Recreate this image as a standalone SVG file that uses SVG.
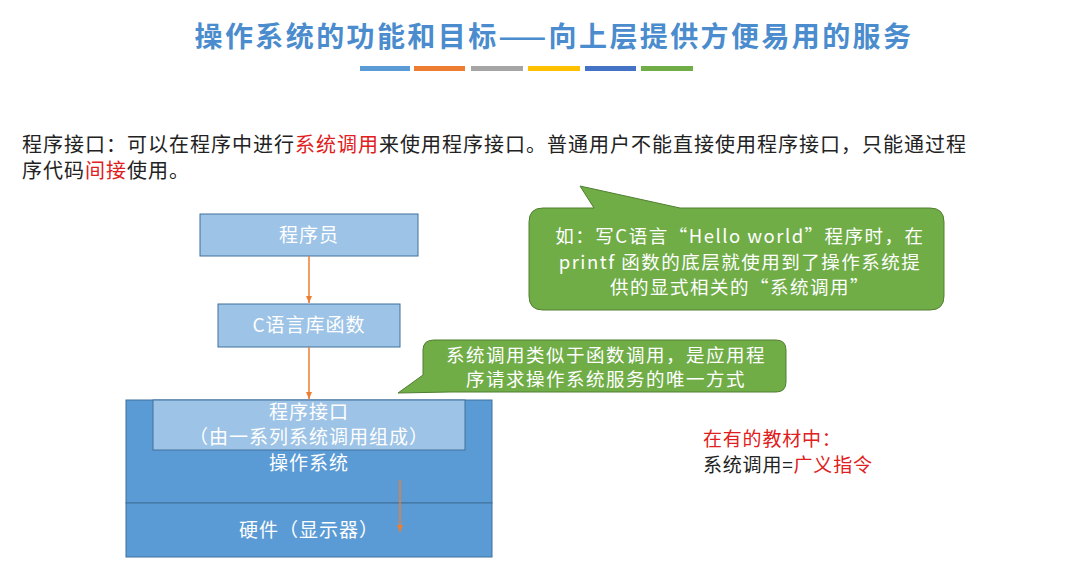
<svg xmlns="http://www.w3.org/2000/svg" width="1088" height="581" viewBox="0 0 1088 581">
<style>
text{font-family:"Noto Sans CJK SC","Liberation Sans",sans-serif}
.w{fill:#fff;font-size:19px;text-anchor:middle;letter-spacing:1px}
.c{fill:#fff;font-size:18.5px;text-anchor:middle;letter-spacing:1.5px}
.b{fill:#222;font-size:20px;letter-spacing:1px}
.s{fill:#222;font-size:19px;letter-spacing:0.8px}
.r{fill:#e02020}
.lb{fill:#9dc3e6;stroke:#41719c;stroke-width:1}
.db{fill:#5b9bd5;stroke:#41719c;stroke-width:1}
.g{fill:#70ad47;stroke:#507e32;stroke-width:1}
.a{stroke:#ed7d31;stroke-width:1.5;fill:none;marker-end:url(#ah)}
</style>
<defs><marker id="ah" markerWidth="8" markerHeight="8" refX="7" refY="4" orient="auto" markerUnits="userSpaceOnUse"><path d="M0,1 L7,4 L0,7z" fill="#ed7d31"/></marker></defs>
<rect width="1088" height="581" fill="#fff"/>
<text x="554" y="47" text-anchor="middle" style="font-size:28px;fill:#4a8ccd;font-weight:bold;letter-spacing:2.4px">操作系统的功能和目标——向上层提供方便易用的服务</text>
<g>
<rect x="360" y="66" width="50" height="5" fill="#5b9bd5"/>
<rect x="414" y="66" width="51" height="5" fill="#ed7d31"/>
<rect x="471" y="66" width="52" height="5" fill="#a5a5a5"/>
<rect x="528" y="66" width="52" height="5" fill="#ffc000"/>
<rect x="585" y="66" width="51" height="5" fill="#4472c4"/>
<rect x="641" y="66" width="52" height="5" fill="#70ad47"/>
</g>
<text class="b" x="22" y="152">程序接口：可以在程序中进行<tspan class="r">系统调用</tspan>来使用程序接口。普通用户不能直接使用程序接口，只能通过程</text>
<text class="b" x="22" y="178">序代码<tspan class="r">间接</tspan>使用。</text>
<g id="os"><rect class="db" x="126" y="400" width="366" height="103"/><text class="w" x="309" y="470">操作系统</text></g>
<g id="hw"><rect class="db" x="126" y="503" width="366" height="54"/><text class="w" x="309" y="537">硬件（显示器）</text></g>
<g id="api"><rect class="lb" x="153" y="400" width="312" height="50"/><text class="w" x="309" y="419">程序接口</text><text class="w" x="309" y="444">（由一系列系统调用组成）</text></g>
<g id="prog"><rect class="lb" x="200" y="214" width="218" height="42"/><text class="w" x="309" y="242">程序员</text></g>
<g id="clib"><rect class="lb" x="218" y="304" width="182" height="43"/><text class="w" x="309" y="332">C语言库函数</text></g>
<g id="connectors">
<line class="a" x1="309" y1="256" x2="309" y2="303"/>
<line class="a" x1="309" y1="347" x2="309" y2="399"/>
<line class="a" x1="400" y1="480" x2="400" y2="532"/>
</g>
<g id="callout1"><path class="g" d="M594,208 L580,186 L680,208 L930,208 Q944,208 944,222 L944,296 Q944,310 930,310 L543,310 Q529,310 529,296 L529,222 Q529,208 543,208 Z"/>
<text class="c" x="740" y="243">如：写C语言“Hello world”程序时，在</text>
<text class="c" x="740" y="269">printf 函数的底层就使用到了操作系统提</text>
<text class="c" x="740" y="294">供的显式相关的“系统调用”</text></g>
<g id="callout2"><path class="g" d="M434,340 L776,340 Q786,340 786,350 L786,382 Q786,392 776,392 L450,392 L398,393 L423,375 L423,350 Q423,340 434,340 Z"/>
<text class="c" x="606" y="362">系统调用类似于函数调用，是应用程</text>
<text class="c" x="606" y="386">序请求操作系统服务的唯一方式</text></g>
<text class="s r" x="703" y="446">在有的教材中：</text>
<text class="s" x="703" y="472">系统调用=<tspan class="r">广义指令</tspan></text>
</svg>
